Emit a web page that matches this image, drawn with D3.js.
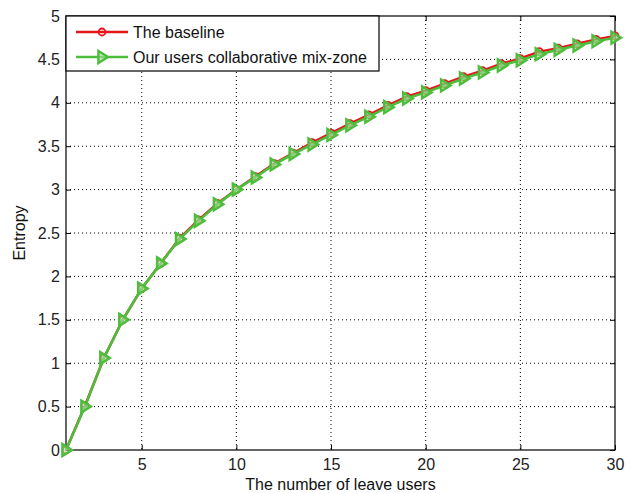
<!DOCTYPE html>
<html><head><meta charset="utf-8">
<script src="https://cdn.jsdelivr.net/npm/d3@7"></script>
<style>body{margin:0;background:#fff}svg{display:block}text{font-family:Arial,"Liberation Sans",sans-serif}</style>
</head><body><svg id="c" width="638" height="493"></svg>
<script>
const users = d3.range(1, 31);
const baseline = [0,0.51,1.06,1.5,1.86,2.15,2.44,2.65,2.84,3.0,3.15,3.3,3.42,3.54,3.65,3.76,3.86,3.97,4.07,4.14,4.22,4.3,4.37,4.45,4.51,4.59,4.63,4.68,4.73,4.77];
const collaborative = [0,0.5,1.06,1.5,1.86,2.15,2.43,2.64,2.83,3.0,3.14,3.29,3.41,3.52,3.63,3.74,3.84,3.95,4.05,4.12,4.2,4.28,4.35,4.43,4.49,4.56,4.61,4.66,4.71,4.75];
const xTicks = [5,10,15,20,25,30];
const yTicks = [0,0.5,1,1.5,2,2.5,3,3.5,4,4.5,5];
const seriesNames = ["The baseline","Our users collaborative mix-zone"];
const colors = ["#e8141c","#4cbe3c"];

const L=66, R=615, T=16, B=450;
const svg=d3.select("#c");
const x=d3.scaleLinear().domain([1,30]).range([L,R]);
const y=d3.scaleLinear().domain([0,5]).range([B,T]);

// grid
const g=svg.append("g");
g.selectAll(".gx").data(xTicks.filter(d=>d<30)).join("line")
 .attr("x1",d=>x(d)).attr("x2",d=>x(d)).attr("y1",T).attr("y2",B)
 .attr("stroke","#000").attr("stroke-width",1).attr("stroke-dasharray","1,3");
g.selectAll(".gy").data(yTicks.filter(d=>d>0&&d<5)).join("line")
 .attr("y1",d=>y(d)).attr("y2",d=>y(d)).attr("x1",L).attr("x2",R)
 .attr("stroke","#000").attr("stroke-width",1).attr("stroke-dasharray","1,3");

// axes
const xa=svg.append("g").attr("transform",`translate(0,${B})`)
 .call(d3.axisBottom(x).tickValues(xTicks).tickSize(-5).tickPadding(9));
const xt=svg.append("g").attr("transform",`translate(0,${T})`)
 .call(d3.axisTop(x).tickValues(xTicks).tickSize(-5).tickFormat(""));
const ya=svg.append("g").attr("transform",`translate(${L},0)`)
 .call(d3.axisLeft(y).tickValues(yTicks).tickSize(-5).tickPadding(6).tickFormat(d3.format("")));
const yr=svg.append("g").attr("transform",`translate(${R},0)`)
 .call(d3.axisRight(y).tickValues(yTicks).tickSize(-5).tickFormat(""));
[xa,xt,ya,yr].forEach(a=>{a.select(".domain").remove();a.selectAll("line").attr("stroke","#000");
 a.selectAll("text").attr("font-size",16).attr("fill","#222");});
svg.append("rect").attr("x",L).attr("y",T).attr("width",R-L).attr("height",B-T)
 .attr("fill","none").attr("stroke","#000").attr("stroke-width",1.2);

// lines
const line=d3.line().x((d,i)=>x(users[i])).y(d=>y(d));
function tri(cx,cy,s){return `M${cx-s*0.6},${cy-s} L${cx+s},${cy} L${cx-s*0.6},${cy+s} Z`;}
svg.append("path").datum(baseline).attr("d",line).attr("fill","none").attr("stroke",colors[0]).attr("stroke-width",2.5);
svg.selectAll(".bm").data(baseline).join("circle").attr("cx",(d,i)=>x(users[i])).attr("cy",d=>y(d)).attr("r",3.5)
 .attr("fill","none").attr("stroke",colors[0]).attr("stroke-width",1.8);
svg.append("path").datum(collaborative).attr("d",line).attr("fill","none").attr("stroke",colors[1]).attr("stroke-width",2.6);
svg.selectAll(".cm").data(collaborative).join("path").attr("d",(d,i)=>tri(x(users[i]),y(d),6))
 .attr("fill","#a8dc9c").attr("fill-opacity",0.6).attr("stroke",colors[1]).attr("stroke-width",2.4);

// legend
const lg=svg.append("g");
lg.append("rect").attr("x",L).attr("y",T).attr("width",313).attr("height",55).attr("fill","#fff").attr("stroke","#000").attr("stroke-width",1.2);
seriesNames.forEach((n,i)=>{
 const yy=T+16+i*25;
 lg.append("line").attr("x1",76).attr("x2",128).attr("y1",yy).attr("y2",yy).attr("stroke",colors[i]).attr("stroke-width",2.5);
 if(i===0) lg.append("circle").attr("cx",102).attr("cy",yy).attr("r",3.5).attr("fill","none").attr("stroke",colors[0]).attr("stroke-width",1.8);
 else lg.append("path").attr("d",tri(102,yy,6)).attr("fill","#a8dc9c").attr("fill-opacity",0.6).attr("stroke",colors[1]).attr("stroke-width",2.4);
 lg.append("text").attr("x",133).attr("y",yy+6).attr("font-size",16).attr("fill","#111").text(n);
});

// labels
svg.append("text").attr("x",(L+R)/2).attr("y",490).attr("text-anchor","middle").attr("font-size",16).attr("fill","#111").text("The number of leave users");
svg.append("text").attr("transform",`translate(25,${(T+B)/2}) rotate(-90)`).attr("text-anchor","middle").attr("font-size",16).attr("fill","#111").text("Entropy");
</script></body></html>
